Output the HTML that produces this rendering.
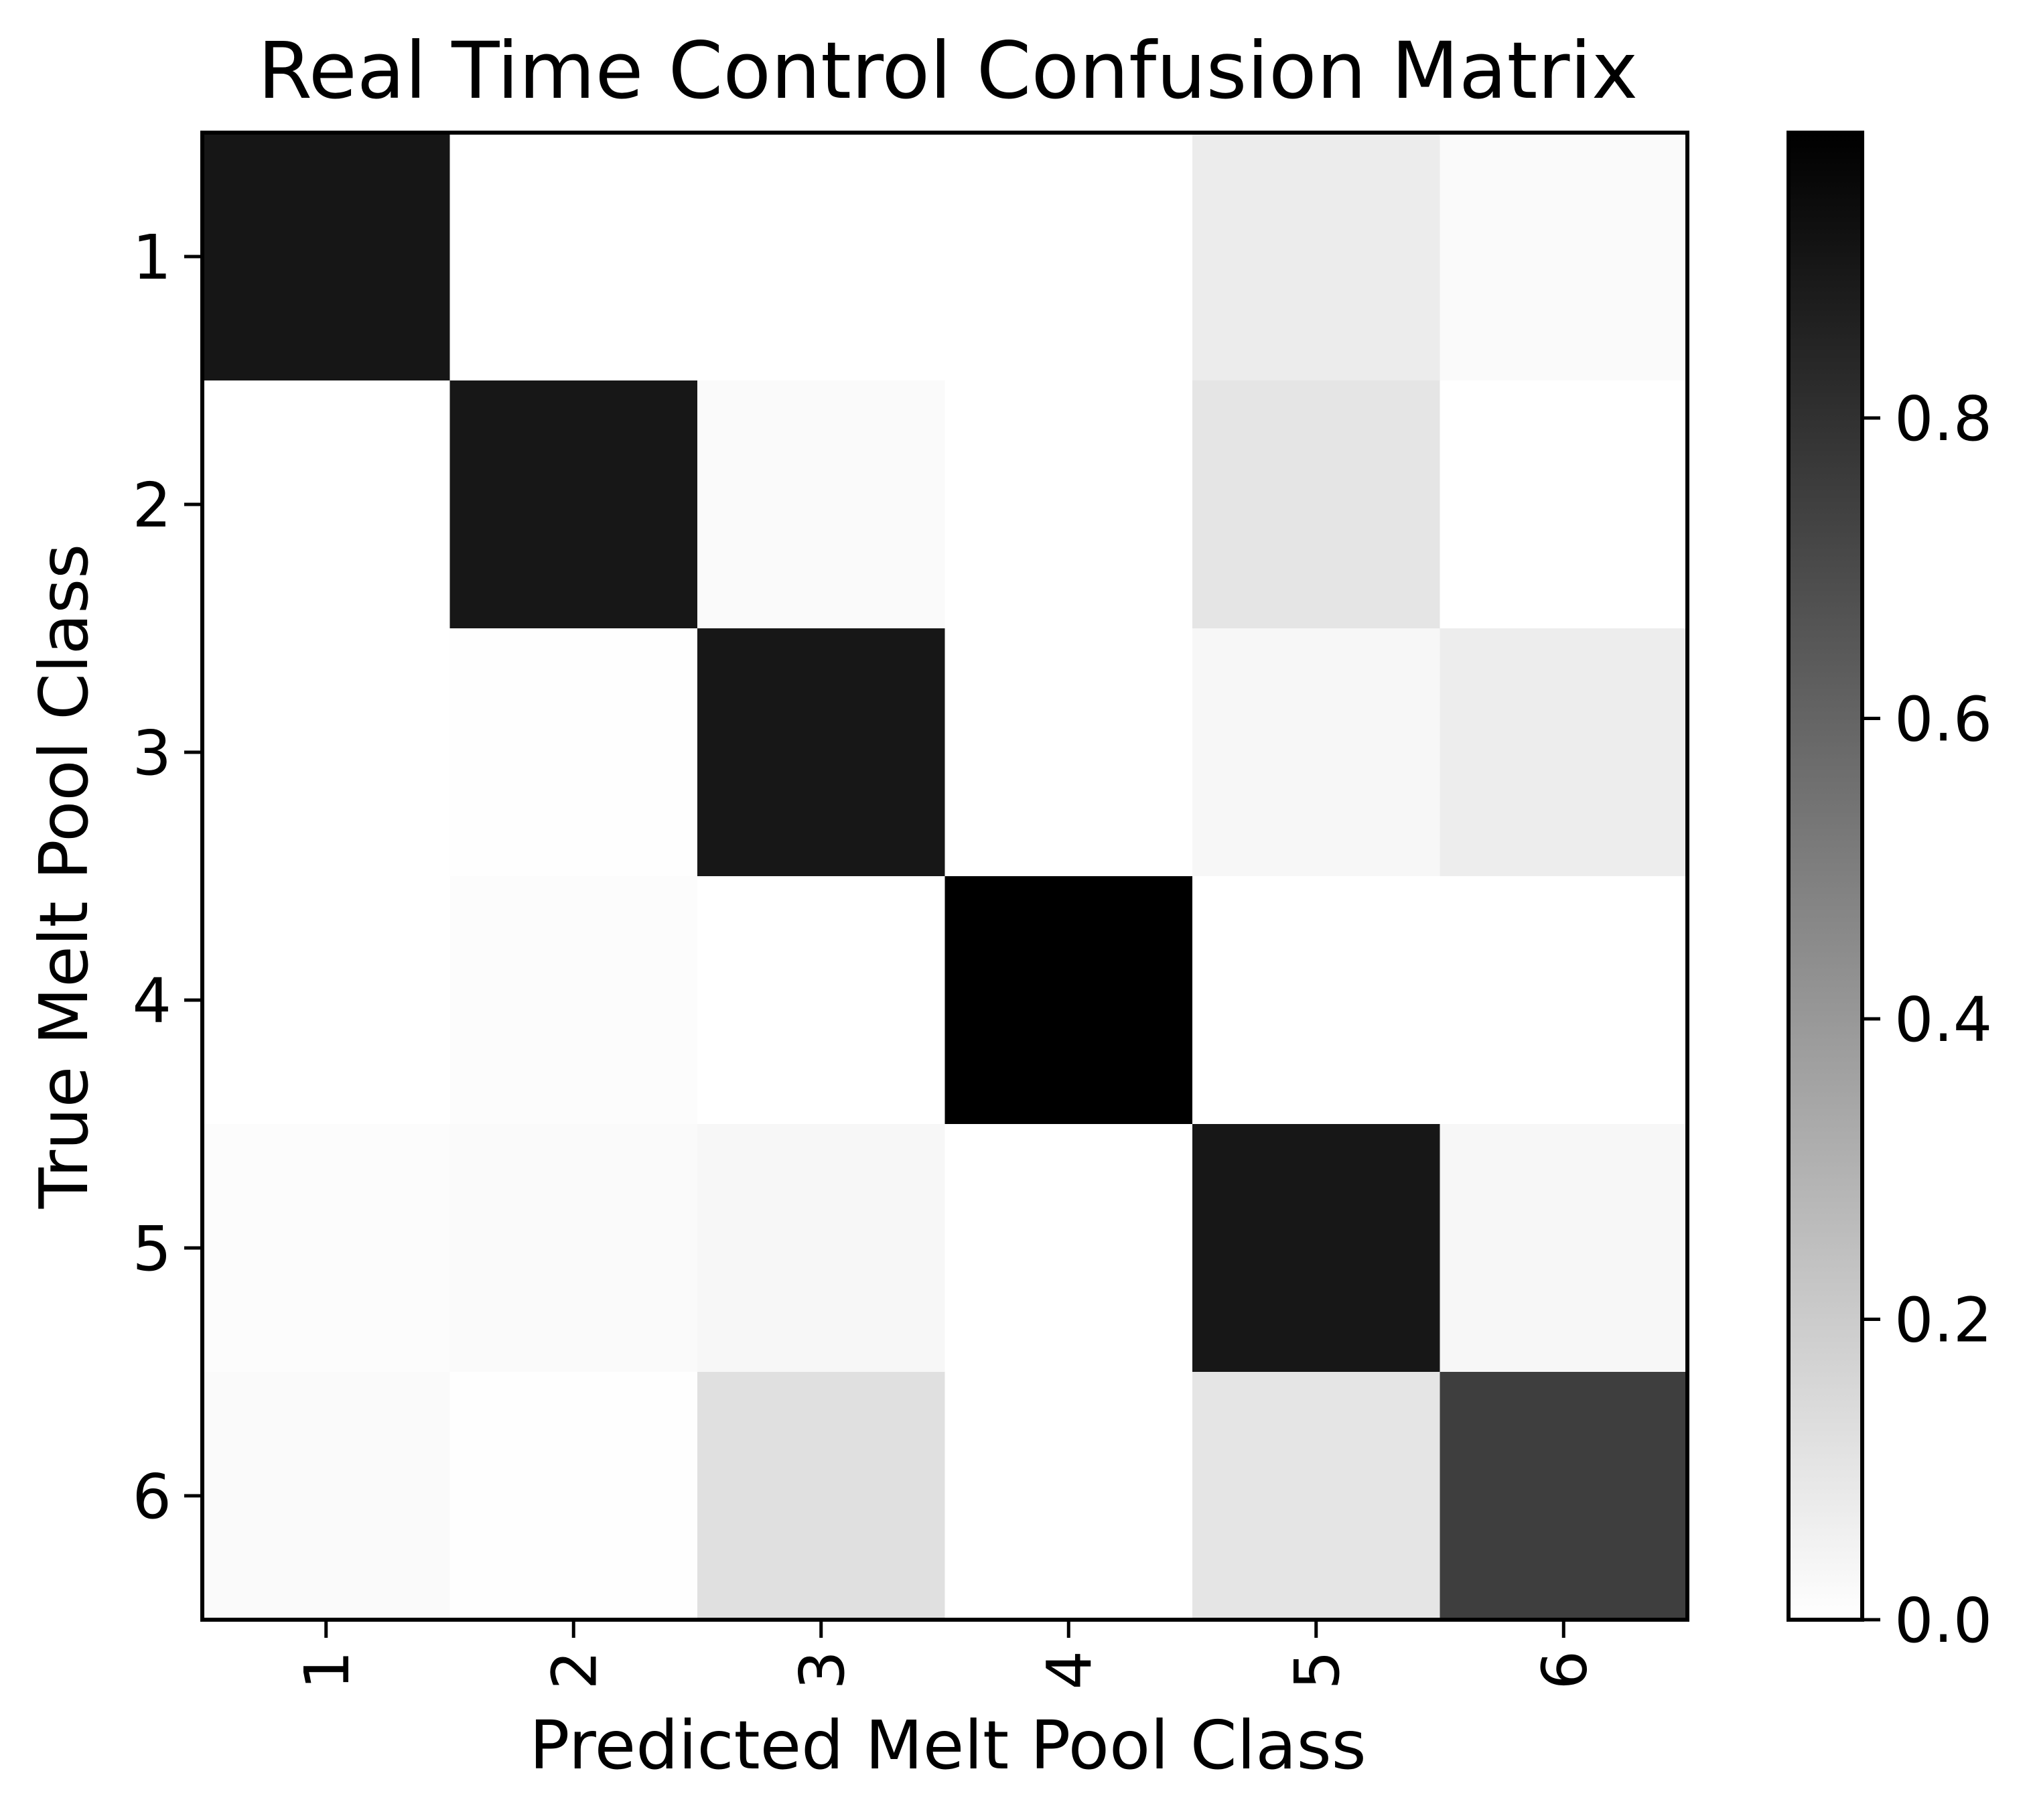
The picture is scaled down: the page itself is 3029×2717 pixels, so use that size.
<!DOCTYPE html>
<html><head><meta charset="utf-8"><style>
html,body{margin:0;padding:0;background:#fff;}
svg{display:block;font-family:"DejaVu Sans","Liberation Sans",sans-serif;}
</style></head><body>
<svg id="chart" width="3029" height="2717" viewBox="0 0 3029 2717" xmlns="http://www.w3.org/2000/svg">
<defs><linearGradient id="cbgrad" x1="0" y1="1" x2="0" y2="0">
<stop offset="0" stop-color="#ffffff"/><stop offset="1" stop-color="#000000"/></linearGradient></defs>
<text x="1415" y="146" font-size="117" text-anchor="middle" fill="#000">Real Time Control Confusion Matrix</text>
<g id="cells"></g>
<g id="axes"></g>
<text x="1415" y="2640" font-size="100" text-anchor="middle" fill="#000">Predicted Melt Pool Class</text>
<text transform="translate(130,1308) rotate(-90)" font-size="100" text-anchor="middle" fill="#000">True Melt Pool Class</text>
</svg>
<script>
const classes = ["1","2","3","4","5","6"];
const matrix = [
 [0.905,0,0,0,0.073,0.02],
 [0,0.9,0.02,0,0.1,0],
 [0,0.005,0.9,0,0.03,0.07],
 [0,0.01,0,0.99,0,0],
 [0.01,0.02,0.03,0,0.9,0.03],
 [0.02,0.005,0.12,0,0.1,0.75]
];
const cbTicks = [0,0.2,0.4,0.6,0.8];
const cbTickLabels = ["0.0","0.2","0.4","0.6","0.8"];
const vmax = 0.99;

const NS="http://www.w3.org/2000/svg";
const L=302,R=2519,T=198,B=2418;
const cw=(R-L)/classes.length, ch=(B-T)/classes.length;
const xPos=i=>L+cw*i, yPos=i=>T+ch*i;
const cbL=2670,cbR=2780;
const cbY=v=>B-(v/vmax)*(B-T);
function mk(tag,attrs,parent){const e=document.createElementNS(NS,tag);for(const k in attrs)e.setAttribute(k,attrs[k]);parent.appendChild(e);return e;}
const cells=document.getElementById('cells'), axes=document.getElementById('axes');
matrix.forEach((row,r)=>row.forEach((v,c)=>{
  const g=Math.round(255*(1-Math.min(v/vmax,1)));
  const e=mk('rect',{x:xPos(c),y:yPos(r),width:cw+0.5,height:ch+0.5,fill:`rgb(${g},${g},${g})`},cells);
  
  
}));
const frame=mk('rect',{x:L,y:T,width:R-L,height:B-T,fill:'none',stroke:'#000','stroke-width':6},axes);


classes.forEach((lab,i)=>{
  const cx=xPos(i)+cw/2, cy=yPos(i)+ch/2;
  mk('line',{x1:cx,y1:B,x2:cx,y2:B+27,stroke:'#000','stroke-width':5},axes);
  const tx=mk('text',{transform:`translate(${cx+33},${B+46}) rotate(-90)`,'font-size':92,'text-anchor':'end',fill:'#000'},axes);
  tx.textContent=lab;
  
  
  mk('line',{x1:L-27,y1:cy,x2:L,y2:cy,stroke:'#000','stroke-width':5},axes);
  const ty=mk('text',{x:L-46,y:cy+33,'font-size':92,'text-anchor':'end',fill:'#000'},axes);
  ty.textContent=lab;
  
  
});
const cb=mk('rect',{x:cbL,y:T,width:cbR-cbL,height:B-T,fill:'url(#cbgrad)',stroke:'#000','stroke-width':6},axes);


cbTicks.forEach((v,i)=>{
  const y=cbY(v);
  mk('line',{x1:cbR,y1:y,x2:cbR+27,y2:y,stroke:'#000','stroke-width':5},axes);
  const t=mk('text',{x:cbR+48,y:y+33,'font-size':92,fill:'#000'},axes);
  t.textContent=cbTickLabels[i];
  
  
});
</script>
</body></html>
